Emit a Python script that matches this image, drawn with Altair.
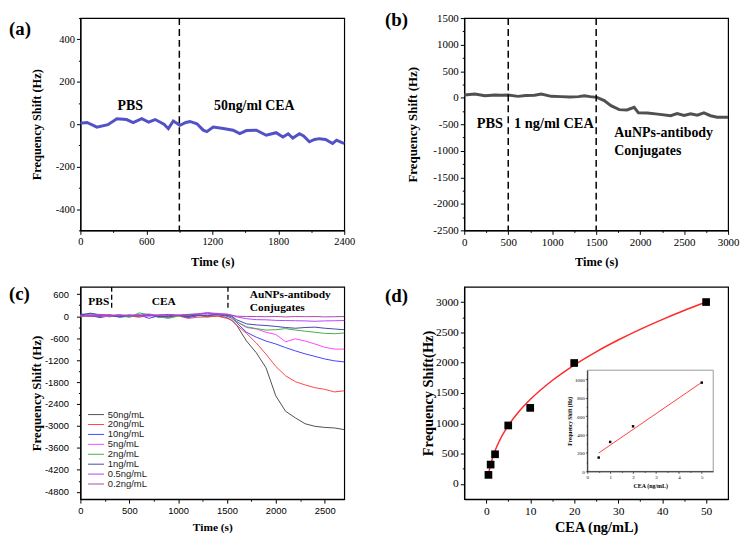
import altair as alt
import pandas as pd

SERIF = "Liberation Serif"
SANS = "Liberation Sans"

# ---------------- (a) ----------------
A_T = [0, 60, 150, 250, 332, 420, 480, 558, 620, 680, 760, 800, 845, 905, 960, 996, 1060,
       1117, 1150, 1208, 1300, 1389, 1450, 1510, 1600, 1690, 1780, 1842, 1890, 1932, 1993,
       2030, 2083, 2130, 2174, 2230, 2294, 2330, 2385, 2400]
A_Y = [5, 8, -14, -2, 26, 22, 8, 26, 10, 22, 0, -21, 15, -5, 8, 13, 2,
       -28, -35, -13, -20, -28, -44, -30, -28, -52, -40, -60, -45, -65, -45,
       -55, -83, -72, -68, -72, -91, -75, -88, -90]
A_DASH = [900]
A_TEXT = ["PBS", "50ng/ml CEA"]
A_TEXT_X = [453, 1582]
A_TEXT_Y = [85, 85]

# ---------------- (b) ----------------
B_T = [0, 121, 234, 350, 420, 500, 611, 700, 800, 875, 989, 1100, 1200, 1300, 1366, 1430,
       1509, 1592, 1668, 1762, 1850, 1932, 1980, 2083, 2200, 2347, 2420, 2500, 2574, 2650,
       2725, 2800, 2875, 3000]
B_Y = [50, 68, 38, 50, 45, 50, 25, 40, 45, 68, 25, 20, 15, 20, 38, 20,
       6, -56, -150, -225, -230, -180, -285, -287, -310, -340, -300, -335, -305, -330,
       -287, -340, -370, -370]
B_DASH = [500, 1500]
B_TEXT = ["PBS", "1 ng/ml CEA"]
B_TEXT_X = [291, 1019]
B_TEXT_Y = [-494, -494]
B_TEXT2 = ["AuNPs-antibody", "Conjugates"]
B_TEXT2_X = [1706, 1706]
B_TEXT2_Y = [-663, -1008]

# ---------------- (c) ----------------
C_T = [0, 100, 200, 300, 400, 500, 600, 700, 800, 900, 1000, 1100, 1200, 1300, 1400, 1500,
       1550, 1600, 1700, 1800, 1900, 2000, 2100, 2200, 2300, 2400, 2500, 2600, 2700]
C_SERIES = ["50ng/mL", "20ng/mL", "10ng/mL", "5ng/mL", "2ng/mL", "1ng/mL", "0.5ng/mL", "0.2ng/mL"]
C_COLORS = ["#505050", "#ff4545", "#4343ff", "#ff45ff", "#45b045", "#4545b0", "#b045ff", "#b045b0"]
C_50 = [-10, 20, -40, 10, 30, -20, 10, 40, -30, 0, 20, -10, 30, -20, 10, -40,
        -120, -250, -680, -1000, -1415, -2180, -2600, -2780, -2940, -3010, -3040, -3055, -3100]
C_20 = [30, -10, 20, 40, -20, 10, -30, 20, 0, -40, 10, -60, -30, -20, 0, -60,
        -110, -250, -470, -735, -1040, -1375, -1630, -1790, -1880, -1955, -2000, -2070, -2040]
C_10 = [60, 20, -10, 30, -30, 0, 40, -60, 10, -20, 30, -40, 10, 30, 40, 0,
        -60, -180, -440, -575, -680, -760, -860, -950, -1030, -1100, -1170, -1220, -1250]
C_5 = [20, 40, 10, -20, 30, 10, 20, 0, 40, 30, 20, 40, 50, 60, 80, 30,
       0, -150, -310, -350, -440, -500, -700, -620, -680, -760, -850, -900, -900]
C_2 = [-20, 80, 40, 0, 20, -30, 90, 40, -20, -60, 0, 20, 40, 0, 60, 30,
       -30, -150, -290, -340, -380, -370, -340, -380, -410, -440, -470, -480, -460]
C_1 = [40, 80, 30, 10, -10, 20, 0, 30, -10, 10, 20, 0, 30, 10, 50, 20,
       0, -100, -210, -240, -255, -280, -310, -330, -310, -300, -330, -350, -370]
C_05 = [0, 30, 50, 20, 40, 10, 30, 60, 20, 40, 30, 50, 60, 100, 70, 60,
        30, -20, -70, -95, -100, -115, -120, -125, -130, -140, -130, -125, -120]
C_02 = [10, 0, 20, 30, 10, 40, 20, 10, 30, 50, 20, 40, 60, 80, 50, 40,
        20, 0, -10, -10, -15, -10, -20, -10, -15, -10, -20, -15, -10]
C_VALUES = [C_50, C_20, C_10, C_5, C_2, C_1, C_05, C_02]
C_DASH = [320, 1510]
C_DASH_TOP = [800, 800]
C_DASH_BOTTOM = [150, 150]
C_TEXT = ["PBS", "CEA"]
C_TEXT_X = [188, 853]
C_TEXT_Y = [393, 393]
C_TEXT2 = ["AuNPs-antibody", "Conjugates"]
C_TEXT2_X = [1733, 1733]
C_TEXT2_Y = [573, 222]

# ---------------- (d) ----------------
D_X = [0.5, 1, 2, 5, 10, 20, 50]
D_Y = [150, 320, 490, 965, 1255, 1995, 3000]
D_FIT_X = [0.5, 0.75, 1, 1.5, 2, 3, 5, 7.5, 10, 15, 20, 25, 30, 35, 40, 45, 50]
D_FIT_Y = [150, 244, 321, 446, 548, 712, 962, 1200, 1392, 1706, 1961, 2180, 2374, 2550, 2711, 2860, 3000]
I_X = [0.5, 1, 2, 5]
I_Y = [150, 320, 490, 965]
I_FIT_X = [0.5, 5]
I_FIT_Y = [200, 968]

W, H = 266, 214


def ax(values, mod, title, lsize, tsize, tpad, font=SERIF, lpad=2, major=4, minor=2, **kw):
    return alt.Axis(
        values=values, title=title,
        labelExpr=f"datum.value % {mod} == 0 ? '' + datum.value : ''",
        tickSize={"condition": {"test": f"datum.value % {mod} == 0", "value": major}, "value": minor},
        labelFont=font, labelFontSize=lsize, labelPadding=lpad,
        titleFont=SERIF, titleFontSize=tsize, titleFontWeight="bold", titlePadding=tpad,
        labelFlush=False, labelOverlap=False, grid=False,
        domainColor="black", tickColor="black", labelColor="black", titleColor="black",
        **kw)


def rng(a, b, s):
    out = []
    v = a
    while v <= b + 1e-9:
        out.append(round(v, 6))
        v += s
    return out


def panel_label(s, x, y):
    return alt.Chart(pd.DataFrame({"s": [s]})).mark_text(
        font=SERIF, fontSize=19, fontWeight="bold", align="left", baseline="alphabetic", color="black"
    ).encode(x=alt.value(x), y=alt.value(y), text="s:N")


def texts(labels, xs, ys, xf, yf, size, align="center", font=SERIF):
    return alt.Chart(pd.DataFrame({"t": xs, "f": ys, "s": labels})).mark_text(
        font=font, fontSize=size, fontWeight="bold", align=align, baseline="middle", color="black"
    ).encode(x=xf, y=yf, text="s:N")


# ---- panel a ----
xa = alt.X("t:Q", scale=alt.Scale(domain=[0, 2400], nice=False, zero=False),
           axis=ax(rng(0, 2400, 300), 600, "Time (s)", 10.5, 12.5, 8.5))
ya = alt.Y("f:Q", scale=alt.Scale(domain=[-500, 500], nice=False, zero=False),
           axis=ax(rng(-500, 500, 100), 200, "Frequency Shift (Hz)", 10.5, 12.5, 12))
line_a = alt.Chart(pd.DataFrame({"t": A_T, "f": A_Y})).mark_line(
    color="#5252c8", strokeWidth=3).encode(x=xa, y=ya)
rule_a = alt.Chart(pd.DataFrame({"t": A_DASH})).mark_rule(
    color="black", strokeWidth=1.5, strokeDash=[7, 4]).encode(x=xa)
text_a = texts(A_TEXT, A_TEXT_X, A_TEXT_Y, xa, ya, 14)
pa = alt.layer(line_a, rule_a, text_a, panel_label("(a)", -72, 17)).properties(width=W, height=H)

# ---- panel b ----
xb = alt.X("t:Q", scale=alt.Scale(domain=[0, 3000], nice=False, zero=False),
           axis=ax(rng(0, 3000, 250), 500, "Time (s)", 11, 12.5, 8.5))
yb = alt.Y("f:Q", scale=alt.Scale(domain=[-2500, 1500], nice=False, zero=False),
           axis=ax(rng(-2500, 1500, 250), 500, "Frequency Shift (Hz)", 11, 13, 13))
line_b = alt.Chart(pd.DataFrame({"t": B_T, "f": B_Y})).mark_line(
    color="#505050", strokeWidth=3).encode(x=xb, y=yb)
rule_b = alt.Chart(pd.DataFrame({"t": B_DASH})).mark_rule(
    color="black", strokeWidth=1.5, strokeDash=[7, 4]).encode(x=xb)
text_b1 = texts(B_TEXT, B_TEXT_X, B_TEXT_Y, xb, yb, 14.5)
text_b2 = texts(B_TEXT2, B_TEXT2_X, B_TEXT2_Y, xb, yb, 14, align="left")
pb = alt.layer(line_b, rule_b, text_b1, text_b2, panel_label("(b)", -80, 8)).properties(width=W, height=H)

# ---- panel c ----
rows = []
for name, vals in zip(C_SERIES, C_VALUES):
    for t, v in zip(C_T, vals):
        rows.append({"t": t, "f": v, "s": name})
df_c = pd.DataFrame(rows)
xc = alt.X("t:Q", scale=alt.Scale(domain=[0, 2700], nice=False, zero=False),
           axis=ax(rng(0, 2500, 250), 500, "Time (s)", 9.5, 11.5, 7, font=SANS))
yc = alt.Y("f:Q", scale=alt.Scale(domain=[-5000, 800], nice=False, zero=False),
           axis=ax(rng(-4800, 600, 300), 600, "Frequency Shift (Hz)", 9.5, 13, 1, font=SANS, lpad=8))
line_c = alt.Chart(df_c).mark_line(strokeWidth=1).encode(
    x=xc, y=yc,
    color=alt.Color("s:N", sort=C_SERIES, scale=alt.Scale(domain=C_SERIES, range=C_COLORS),
                    legend=alt.Legend(orient="none", legendX=11, legendY=124, title=None,
                                      symbolType="M-2,0H2", symbolSize=64, symbolStrokeWidth=1,
                                      labelFont=SANS, labelFontSize=9.5, labelColor="#222222",
                                      labelOffset=7, rowPadding=-1.8, padding=0)),
    order=alt.Order("s:N"))
rule_c = alt.Chart(pd.DataFrame({"t": C_DASH, "f": C_DASH_TOP, "f2": C_DASH_BOTTOM})).mark_rule(
    color="black", strokeWidth=1.3, strokeDash=[5, 3]).encode(x=xc, y=yc, y2="f2:Q")
text_c1 = texts(C_TEXT, C_TEXT_X, C_TEXT_Y, xc, yc, 11.5)
text_c2 = texts(C_TEXT2, C_TEXT2_X, C_TEXT2_Y, xc, yc, 11.5, align="left")
pc = alt.layer(line_c, rule_c, text_c1, text_c2, panel_label("(c)", -72, 13)).properties(width=W, height=H)

# ---- panel d ----
xd = alt.X("c:Q", scale=alt.Scale(domain=[-5, 55], nice=False, zero=False),
           axis=ax(rng(0, 50, 5), 10, "CEA (ng/mL)", 11.5, 14.5, 4.5))
yd = alt.Y("f:Q", scale=alt.Scale(domain=[-250, 3250], nice=False, zero=False),
           axis=ax(rng(0, 3000, 250), 500, "Frequency Shift(Hz)", 11.5, 14.5, 0))
fit_d = alt.Chart(pd.DataFrame({"c": D_FIT_X, "f": D_FIT_Y})).mark_line(
    color="#ff2a2a", strokeWidth=1.5, interpolate="monotone").encode(x=xd, y=yd)
pts_d = alt.Chart(pd.DataFrame({"c": D_X, "f": D_Y})).mark_point(
    shape="square", filled=True, color="black", size=60, opacity=1).encode(x=xd, y=yd)
main_d = alt.layer(fit_d, pts_d, panel_label("(d)", -80, 15))

IN_L, IN_R, IN_T, IN_B = 124, 251, 84, 186
xi = alt.X("ci:Q", scale=alt.Scale(domain=[0, 5.5], range=[IN_L, IN_R], nice=False, zero=False),
           axis=ax(rng(0, 5, 0.5), 1, "CEA (ng/mL)", 5, 6, 3, lpad=1, major=2, minor=1,
                   orient="bottom", offset=IN_B - H, zindex=2, domainWidth=0.8, tickWidth=0.6))
yi = alt.Y("fi:Q", scale=alt.Scale(domain=[0, 1100], range=[IN_B, IN_T], nice=False, zero=False),
           axis=ax(rng(0, 1000, 100), 200, "Frequency Shift (Hz)", 5, 5.5, 2, lpad=1, major=2, minor=1,
                   orient="left", offset=-IN_L, zindex=2, domainWidth=0.8, tickWidth=0.6))
frame_i = alt.Chart(pd.DataFrame({"ci": [0], "ci2": [5.5], "fi": [0], "fi2": [1100]})).mark_rect(
    fill="white", stroke="#9a9a9a", strokeWidth=1).encode(x=xi, x2="ci2:Q", y=yi, y2="fi2:Q")
fit_i = alt.Chart(pd.DataFrame({"ci": I_FIT_X, "fi": I_FIT_Y})).mark_line(
    color="#ff4040", strokeWidth=1).encode(x=xi, y=yi)
pts_i = alt.Chart(pd.DataFrame({"ci": I_X, "fi": I_Y})).mark_point(
    shape="square", filled=True, color="black", size=6, opacity=1).encode(x=xi, y=yi)
inset_d = alt.layer(frame_i, fit_i, pts_i)

pd_ = alt.layer(main_d, inset_d).resolve_scale(x="independent", y="independent").properties(width=W, height=H)

chart = alt.concat(pa, pb, pc, pd_, columns=2, spacing={"row": 57, "column": 121}, bounds="flush").resolve_legend(
    color="independent"
).properties(
    padding=0
).configure_view(stroke="black", strokeWidth=1.2).configure_axis(domainWidth=1.2, tickWidth=1)

chart.save("out.html", embed_options={"renderer": "svg", "actions": False})
